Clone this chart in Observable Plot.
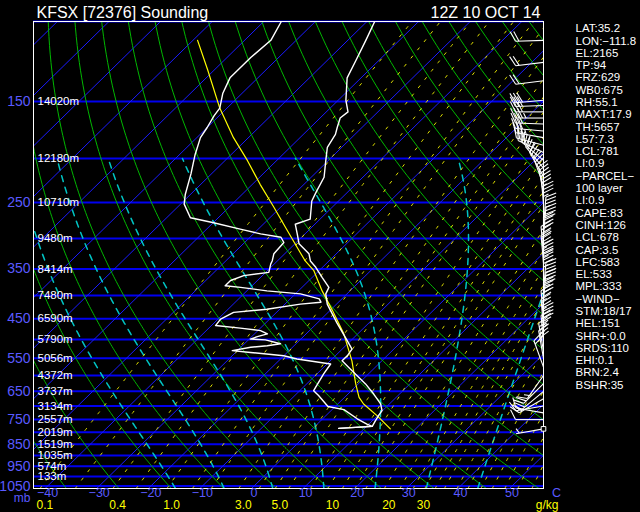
<!DOCTYPE html>
<html>
<head>
<meta charset="utf-8">
<script src="https://cdn.jsdelivr.net/npm/d3@7"></script>
<script src="https://cdn.jsdelivr.net/npm/@observablehq/plot@0.6"></script>
<style>
  html, body { margin: 0; padding: 0; background: #000; overflow: hidden; }
  #chart svg { display: block; }
</style>
</head>
<body>
<div id="chart"></div>
<script>
// ---------------- text ----------------
const titleText = "KFSX [72376] Sounding";
const dateText = "12Z 10 OCT 14";
const infoLines = ["LAT:35.2","LON:\u2212111.8","EL:2165","TP:94","FRZ:629","WB0:675","RH:55.1","MAXT:17.9","TH:5657","L57:7.3","LCL:781","LI:0.9","\u2212PARCEL\u2212","100 layer","LI:0.9","CAPE:83","CINH:126","LCL:678","CAP:3.5","LFC:583","EL:533","MPL:333","\u2212WIND\u2212","STM:18/17","HEL:151","SHR+:0.0","SRDS:110","EHI:0.1","BRN:2.4","BSHR:35"];

// ---------------- axes ----------------
const isobarLevels = [100,150,200,250,300,350,400,450,500,550,600,650,700,750,800,850,900,950,1000,1050];
const pressureLabels = [150,250,350,450,550,650,750,850,950,1050];
const heightLevels = [1000,950,900,850,800,750,700,650,600,550,500,450,400,350,300,250,200,150];
const heightLabels = ["133m","574m","1035m","1519m","2019m","2557m","3134m","3737m","4372m","5056m","5790m","6590m","7480m","8414m","9480m","10710m","12180m","14020m"];
const tempTicks = [-40,-30,-20,-10,0,10,20,30,40,50];
const tempTickLabels = ["\u221240","\u221230","\u221220","\u221210","0","10","20","30","40","50"];
const mixLabelValues = [0.1,0.4,1,3,5,10,20,30];
const mixLabelText = ["0.1","0.4","1.0","3.0","5.0","10","20","30"];

// ---------------- background line families ----------------
const isothermTemps = [-140,-130,-120,-110,-100,-90,-80,-70,-60,-50,-40,-30,-20,-10,0,10,20,30,40,50];
const dryAdiabatThetas = [-50,-40,-30,-20,-10,0,10,20,30,40,50,60,70,80,90,100,110,120,130,140,150,160,170,180,190];
const moistAdiabatStarts = [-15.5,-6,3.5,13.5,23.5,33.5,43.5];
const mixingRatioLines = [0.1,0.2,0.4,0.6,1,1.5,2,3,4,5,6,8,10,12,14,16,20,24,28,32,36,40,46,52,60,68,78,90,105,120];

// ---------------- sounding ----------------
const tempP = [100,110,122,133,149,158,163,171,177,189,202,220,236,248,272,279,293,308,324,336,347,365,384,397,418,459,503,525,543,557,576,626,659,693,717,735,754,776,784];
const tempT = [-68.5,-66.5,-64.4,-62.7,-58.5,-55.8,-56.1,-54.8,-53.8,-52.8,-50.5,-47.5,-46.2,-45.2,-41.9,-43.8,-41.5,-39.2,-35.3,-33.6,-31.3,-28.1,-24.8,-24.1,-21.8,-16.3,-10.7,-8.1,-7.7,-7.7,-5.1,1.4,5.0,8.3,9.9,10.2,10.6,11.1,5.0];
const dewP = [100,110,120,133,144,155,161,171,180,196,216,240,252,270,277,286,293,298,306,324,336,341,356,362,371,381,384,391,397,407,414,418,429,436,451,466,472,478,486,493,499,501,511,516,520,529,534,543,552,566,595,637,648,664,702,713,747,767,776,784];
const dewT = [-86.6,-84.9,-85.4,-85.4,-83.7,-81.4,-81.0,-80.0,-79.3,-77.0,-74.0,-71.0,-69.3,-65.4,-59.9,-53.5,-48.6,-44.0,-42.4,-42.1,-41.0,-40.7,-39.4,-43.6,-45.2,-45.2,-41.9,-36.1,-29.0,-24.4,-23.4,-27.0,-32.5,-38.3,-39.5,-39.2,-33.9,-29.5,-27.5,-28.9,-29.8,-26.7,-23.0,-25.2,-28.1,-31.0,-27.1,-20.0,-16.8,-9.3,-8.7,-7.6,-7.3,-5.4,-1.4,2.3,6.7,9.6,11.1,5.0];
const parcelP = [110,128,155,180,202,228,256,288,314,336,353,391,432,486,557,626,670,693,735,786];
const parcelT = [-99.1,-91.2,-81.4,-72.9,-65.7,-58.5,-51.3,-44.1,-38.8,-34.6,-31.0,-25.4,-19.5,-12.7,-5.8,-0.5,2.8,5.0,9.9,15.1];
const surfaceP = 786;

// ---------------- winds ----------------
const windP   = [110,123,135,149,153,158,163,168,174,180,187,194,202,210,219,229,240,252,265,280,295,310,325,340,355,372,390,410,430,450,470,490,510,530,550,575,600,625,650,675,700,725,750,786];
const windDir = [268,263,263,265,268,270,270,272,275,280,285,295,310,320,330,340,350,355,0,5,5,0,355,355,0,0,5,5,0,355,355,0,355,350,350,340,215,225,230,240,260,280,270,260];
const windSpd = [20,20,20,30,30,30,35,30,30,35,30,30,30,30,30,30,35,35,35,35,40,40,40,45,45,45,45,45,40,35,35,40,35,35,30,20,15,20,20,15,15,10,10,5];

// ---------------- geometry of the skew-T ----------------
const SKEW = 39.08, PREF = 1050;
const sx = (T, p) => T + SKEW * Math.log(PREF / p);
const X_LEFT = -42.73, X_RIGHT = 56.10;
const P_BOTTOM = 1063, P_TOP = 100;
const W = 640, H = 512, ML = 33, MR = 97, MT = 21, MB = 24;
const KX = (W - ML - MR) / (X_RIGHT - X_LEFT);
const KY = (H - MT - MB) / Math.log(P_BOTTOM / P_TOP);

const pLevels = [];
for (let p = P_BOTTOM; p > P_TOP; p -= 5) pLevels.push(p);
pLevels.push(P_TOP);

const es = Tc => 6.112 * Math.exp(17.67 * Tc / (Tc + 243.5));
function tdFromW(w, p) {
  const e = w * p / (622 + w);
  const l = Math.log(e / 6.112);
  return 243.5 * l / (17.67 - l);
}
function dTdp(p, T) {
  const e = es(T - 273.15);
  const rs = 0.622 * e / (p - e);
  const Rd = 287.04, cp = 1005.7, Lv = 2.501e6, eps = 0.622;
  return (Rd * T + Lv * rs) / (p * (cp + Lv * Lv * rs * eps / (Rd * T * T)));
}

const isotherms = isothermTemps.flatMap(t => [P_BOTTOM, P_TOP].map(p => ({X: sx(t, p), p, k: t})));
const dryLines = dryAdiabatThetas.flatMap(th => pLevels.map(p => ({X: sx((th + 273.15) * Math.pow(p / 1000, 0.286) - 273.15, p), p, k: th})));
const mixLines = mixingRatioLines.flatMap(w => pLevels.map(p => ({X: sx(tdFromW(w, p), p), p, k: w})));
const moistLines = moistAdiabatStarts.flatMap(t0 => {
  let T = t0 + 273.15, p = 1050;
  const pts = [{X: sx(T - 273.15 + dTdp(p, T) * (P_BOTTOM - 1050), P_BOTTOM), p: P_BOTTOM, k: t0}, {X: sx(t0, 1050), p: 1050, k: t0}];
  while (p > 200) {
    const dp = -5;
    const k1 = dTdp(p, T);
    const k2 = dTdp(p + dp / 2, T + k1 * dp / 2);
    T += k2 * dp; p += dp;
    pts.push({X: sx(T - 273.15, p), p, k: t0});
  }
  return pts;
});

const tempLine = tempP.map((p, i) => ({X: sx(tempT[i], p), p}));
const dewLine = dewP.map((p, i) => ({X: sx(dewT[i], p), p}));
const parcelLine = parcelP.map((p, i) => ({X: sx(parcelT[i], p), p}));

// wind barbs, anchored on the right edge of the diagram
const barbSegs = [];
windP.forEach((p, i) => {
  const d = windDir[i] * Math.PI / 180, s = windSpd[i];
  const ux = Math.sin(d), uy = -Math.cos(d);
  let fx = -uy + 0.5 * ux, fy = ux + 0.5 * uy;
  const fl = Math.hypot(fx, fy); fx /= fl; fy /= fl;
  const L = 28, F = 11, G = 3.5;
  const seg = (ax, ay, bx, by) => barbSegs.push({
    x1: X_RIGHT + ax / KX, y1: p * Math.exp(ay / KY),
    x2: X_RIGHT + bx / KX, y2: p * Math.exp(by / KY)
  });
  seg(0, 0, ux * L, uy * L);
  const n10 = Math.floor(s / 10), n5 = Math.round((s - 10 * n10) / 5);
  let pos = L;
  for (let k = 0; k < n10; k++) { seg(ux * pos, uy * pos, ux * pos + fx * F, uy * pos + fy * F); pos -= G; }
  if (n5) { if (n10 === 0) pos -= G; seg(ux * pos, uy * pos, ux * pos + fx * F / 2, uy * pos + fy * F / 2); }
});

const FONT = "'Liberation Sans',Arial,sans-serif";
const LABEL_BLUE = "#5a5aff";

const chart = Plot.plot({
  width: W, height: H,
  marginLeft: ML, marginRight: MR, marginTop: MT, marginBottom: MB,
  style: {background: "black", color: "white", overflow: "visible"},
  x: {type: "linear", domain: [X_LEFT, X_RIGHT], range: [ML, W - MR], axis: null},
  y: {type: "log", domain: [P_BOTTOM, P_TOP], range: [H - MB, MT], axis: null},
  marks: [
    Plot.ruleY(isobarLevels, {y: d => d, stroke: "#0000f0", strokeWidth: 2}),
    Plot.line(isotherms, {x: "X", y: "p", z: "k", stroke: "#1a1aff", strokeWidth: 1, clip: true}),
    Plot.line(dryLines, {x: "X", y: "p", z: "k", stroke: "#00b800", strokeWidth: 1, clip: true}),
    Plot.line(moistLines, {x: "X", y: "p", z: "k", stroke: "#00c4c4", strokeWidth: 1.5, strokeDasharray: "6,6", clip: true}),
    Plot.line(mixLines, {x: "X", y: "p", z: "k", stroke: "#e0e000", strokeWidth: 1, strokeDasharray: "2.5,8", clip: true}),
    Plot.frame({stroke: "white", strokeWidth: 1}),
    // left labels
    Plot.text(pressureLabels, {x: X_LEFT, y: d => d, text: d => String(d), dx: -3, textAnchor: "end", fill: LABEL_BLUE, fontSize: 14, fontFamily: FONT}),
    Plot.text(["mb"], {x: X_LEFT, y: 1050, dy: 12.5, dx: -3, textAnchor: "end", fill: LABEL_BLUE, fontSize: 12, fontFamily: FONT}),
    Plot.text(heightLevels, {x: X_LEFT, y: d => d, text: (d, i) => heightLabels[i], dx: 4, textAnchor: "start", fill: "white", fontSize: 11.5, fontFamily: FONT}),
    // bottom labels
    Plot.text(tempTicks, {x: d => d, y: P_BOTTOM, text: (d, i) => tempTickLabels[i], dy: 4.5, fill: LABEL_BLUE, fontSize: 12.5, fontFamily: FONT}),
    Plot.text(["C"], {x: 58.6, y: P_BOTTOM, dy: 4.5, fill: LABEL_BLUE, fontSize: 12.5, fontFamily: FONT}),
    Plot.text(mixLabelValues, {x: w => tdFromW(w, 1050), y: P_BOTTOM, text: (d, i) => mixLabelText[i], dx: 3, dy: 17, fill: "#ffff00", fontSize: 12, fontFamily: FONT}),
    Plot.text(["g/kg"], {x: 59.0, y: P_BOTTOM, dy: 17, textAnchor: "end", fill: "#ffff00", fontSize: 12, fontFamily: FONT}),
    // sounding
    Plot.line(parcelLine, {x: "X", y: "p", stroke: "#ffff00", strokeWidth: 1.2, clip: true}),
    Plot.line(tempLine, {x: "X", y: "p", stroke: "white", strokeWidth: 1.4, clip: true}),
    Plot.line(dewLine, {x: "X", y: "p", stroke: "white", strokeWidth: 1.4, clip: true}),
    // winds
    Plot.link(barbSegs, {x1: "x1", y1: "y1", x2: "x2", y2: "y2", stroke: "white", strokeWidth: 1.1}),
    Plot.dot([surfaceP], {x: X_RIGHT, y: d => d, symbol: "square", r: 2.6, stroke: "white", fill: "black", strokeWidth: 1}),
    // header and info panel
    Plot.text([titleText], {frameAnchor: "top-left", dx: 3, dy: -8.5, textAnchor: "start", lineAnchor: "middle", fill: "white", fontSize: 16, fontFamily: FONT}),
    Plot.text([dateText], {frameAnchor: "top-right", dx: -3, dy: -8.5, textAnchor: "end", lineAnchor: "middle", fill: "white", fontSize: 16, fontFamily: FONT}),
    Plot.text([infoLines.join("\n")], {frameAnchor: "top-right", dx: 32, dy: 2, textAnchor: "start", lineAnchor: "top", lineHeight: 1.069, fill: "white", fontSize: 11.5, fontFamily: FONT})
  ]
});
document.getElementById("chart").append(chart);
</script>
</body>
</html>
